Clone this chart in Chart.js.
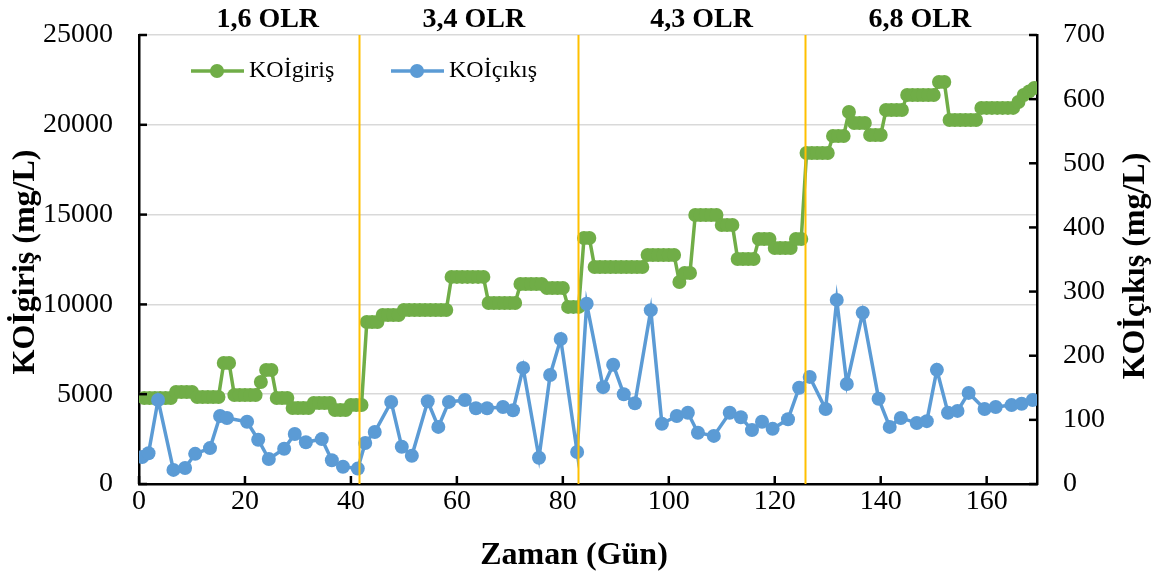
<!DOCTYPE html>
<html>
<head>
<meta charset="utf-8">
<script src="https://cdn.jsdelivr.net/npm/chart.js@4.4.0/dist/chart.umd.min.js"></script>
<style>
  body { margin: 0; background: #fff; }
  #wrap { width: 1159px; height: 581px; position: relative; }
</style>
</head>
<body>
<div id="wrap"><canvas id="chart"></canvas></div>
<script>
// KOI giris (mg/L), one value per day starting at day 1
var inValues = [
  4790, 4790, 4790, 4790, 4790, 4790, 5120, 5120, 5120, 5120,
  4840, 4840, 4840, 4840, 4840, 6740, 6740, 4950, 4950, 4950,
  4950, 4950, 5680, 6350, 6350, 4790, 4790, 4790, 4230, 4230,
  4230, 4230, 4510, 4510, 4510, 4510, 4120, 4120, 4120, 4400,
  4400, 4400, 9020, 9020, 9020, 9410, 9410, 9410, 9410, 9690,
  9690, 9690, 9690, 9690, 9690, 9690, 9690, 9690, 11530, 11530,
  11530, 11530, 11530, 11530, 11530, 10080, 10080, 10080, 10080, 10080,
  10080, 11140, 11140, 11140, 11140, 11140, 10910, 10910, 10910, 10910,
  9860, 9860, 9860, 13700, 13700, 12080, 12080, 12080, 12080, 12080,
  12080, 12080, 12080, 12080, 12080, 12750, 12750, 12750, 12750, 12750,
  12750, 11250, 11750, 11750, 14980, 14980, 14980, 14980, 14980, 14420,
  14420, 14420, 12530, 12530, 12530, 12530, 13640, 13640, 13640, 13140,
  13140, 13140, 13140, 13640, 13640, 18430, 18430, 18430, 18430, 18430,
  19380, 19380, 19380, 20710, 20100, 20100, 20100, 19430, 19430, 19430,
  20820, 20820, 20820, 20820, 21660, 21660, 21660, 21660, 21660, 21660,
  22380, 22380, 20270, 20270, 20270, 20270, 20270, 20270, 20940, 20940,
  20940, 20940, 20940, 20940, 20940, 21270, 21660, 21850, 22050
];

// KOI cikis (mg/L), sampled days
var outDays = [
  0.6, 1.8, 3.6, 6.5, 8.7, 10.6, 13.4, 15.3, 16.6, 20.4,
  22.5, 24.5, 27.4, 29.4, 31.5, 34.5, 36.4, 38.5, 41.3, 42.7,
  44.5, 47.6, 49.6, 51.5, 54.5, 56.5, 58.5, 61.5, 63.6, 65.7,
  68.7, 70.6, 72.5, 75.5, 77.6, 79.6, 82.7, 84.5, 87.6, 89.5,
  91.5, 93.6, 96.6, 98.7, 101.5, 103.6, 105.5, 108.5, 111.5, 113.6,
  115.7, 117.6, 119.6, 122.5, 124.6, 126.6, 129.6, 131.7, 133.6, 136.6,
  139.6, 141.7, 143.8, 146.8, 148.7, 150.6, 152.7, 154.5, 156.6, 159.6,
  161.7, 164.7, 166.6, 168.7
];
var outValues = [
  42, 48, 131, 22, 25, 47, 56, 106, 103, 97,
  69, 39, 55, 78, 65, 70, 37, 27, 24, 64,
  81, 128, 58, 44, 129, 89, 128, 131, 118, 118,
  120, 115, 181, 41, 170, 226, 50, 281, 151, 186,
  140, 126, 271, 94, 106, 111, 80, 75, 111, 104,
  84, 97, 86, 101, 150, 167, 117, 287, 156, 267,
  133, 89, 103, 95, 98, 178, 111, 114, 142, 117,
  120, 123, 125, 131
];

// loading phases
var phaseBounds = [41.5, 82.8, 125.7];
var phaseLabels = ["1,6 OLR", "3,4 OLR", "4,3 OLR", "6,8 OLR"];
var phaseLabelAt = [24.3, 63.2, 106.2, 147.4];

var seriesNames = ["KOİgiriş", "KOİçıkış"];
var green = "#70AD47";
var blue = "#5B9BD5";
var serif = "'Liberation Serif', 'Times New Roman', serif";

var inPoints = [];
for (var i = 0; i < inValues.length; i++) {
    inPoints.push({ x: i + 1, y: inValues[i] });
}
var outPoints = [];
for (var j = 0; j < outDays.length; j++) {
    outPoints.push({ x: outDays[j], y: outValues[j] });
}

function plain(v) { return String(v); }
function fitSide(w) {
    return function(s) { s.width = w; s.paddingTop = 0; s.paddingBottom = 0; };
}

var extras = {
    id: "extras",
    afterDatasetsDraw: function(chart) {
        var ctx = chart.ctx;
        var a = chart.chartArea;
        var xs = chart.scales.x, ys = chart.scales.y, y1 = chart.scales.y1;
        ctx.save();
        // phase lines
        ctx.strokeStyle = "#FFC000";
        ctx.lineWidth = 2;
        phaseBounds.forEach(function(d) {
            var px = Math.round(xs.getPixelForValue(d)) + 0.5;
            ctx.beginPath();
            ctx.moveTo(px, a.top);
            ctx.lineTo(px, a.bottom);
            ctx.stroke();
        });
        // inward tick marks
        ctx.strokeStyle = "#000";
        ctx.lineWidth = 2.5;
        xs.ticks.forEach(function(t) {
            var px = xs.getPixelForValue(t.value);
            ctx.beginPath(); ctx.moveTo(px, a.bottom); ctx.lineTo(px, a.bottom - 8); ctx.stroke();
        });
        ys.ticks.forEach(function(t) {
            var py = ys.getPixelForValue(t.value);
            ctx.beginPath(); ctx.moveTo(a.left, py); ctx.lineTo(a.left + 8, py); ctx.stroke();
        });
        y1.ticks.forEach(function(t) {
            var py = y1.getPixelForValue(t.value);
            ctx.beginPath(); ctx.moveTo(a.right, py); ctx.lineTo(a.right - 8, py); ctx.stroke();
        });
        ctx.restore();
    },
    afterDraw: function(chart) {
        var ctx = chart.ctx;
        var xs = chart.scales.x;
        ctx.save();
        ctx.fillStyle = "#000";
        ctx.textAlign = "center";
        ctx.textBaseline = "middle";
        ctx.font = "bold 28px " + serif;
        phaseLabels.forEach(function(lbl, k) {
            ctx.fillText(lbl, xs.getPixelForValue(phaseLabelAt[k]), 20);
        });
        // axis titles
        ctx.font = "bold 32px " + serif;
        ctx.fillText("Zaman (Gün)", 574, 556);
        ctx.save();
        ctx.translate(26, 262);
        ctx.rotate(-Math.PI / 2);
        ctx.fillText("KOİgiriş (mg/L)", 0, 0);
        ctx.restore();
        ctx.save();
        ctx.translate(1136, 266);
        ctx.rotate(-Math.PI / 2);
        ctx.fillText("KOİçıkış (mg/L)", 0, 0);
        ctx.restore();
        // legend
        var items = [[191, green, seriesNames[0]], [391, blue, seriesNames[1]]];
        ctx.font = "24px " + serif;
        ctx.textAlign = "left";
        items.forEach(function(it) {
            var ly = 71;
            ctx.strokeStyle = it[1];
            ctx.lineWidth = 3.5;
            ctx.beginPath(); ctx.moveTo(it[0], ly); ctx.lineTo(it[0] + 53, ly); ctx.stroke();
            ctx.fillStyle = it[1];
            ctx.beginPath(); ctx.arc(it[0] + 26, ly, 7, 0, Math.PI * 2); ctx.fill();
            ctx.fillStyle = "#000";
            ctx.fillText(it[2], it[0] + 58, ly);
        });
        ctx.restore();
    }
};

var chart = new Chart(document.getElementById("chart"), {
    type: "line",
    data: {
        datasets: [{
            label: seriesNames[1],
            data: outPoints,
            yAxisID: "y1",
            borderColor: blue,
            backgroundColor: blue,
            pointBackgroundColor: blue,
            pointBorderColor: blue,
            borderWidth: 3.5,
            pointRadius: 7,
            pointBorderWidth: 0,
            tension: 0
        }, {
            label: seriesNames[0],
            data: inPoints,
            yAxisID: "y",
            borderColor: green,
            backgroundColor: green,
            pointBackgroundColor: green,
            pointBorderColor: green,
            borderWidth: 3.5,
            pointRadius: 7,
            pointBorderWidth: 0,
            tension: 0
        }]
    },
    options: {
        responsive: true,
        maintainAspectRatio: false,
        animation: false,
        layout: { padding: { top: 35, left: 0, right: 0, bottom: 0 } },
        plugins: { legend: { display: false }, tooltip: { enabled: false } },
        scales: {
            x: {
                type: "linear",
                min: 0,
                max: 169.5,
                afterFit: function(s) { s.height = 97; s.paddingLeft = 0; s.paddingRight = 0; },
                grid: { display: false, drawTicks: false },
                border: { display: true, color: "#000", width: 2.5 },
                ticks: {
                    stepSize: 20,
                    includeBounds: false,
                    padding: 1,
                    color: "#000",
                    callback: plain,
                    font: { family: serif, size: 28 }
                }
            },
            y: {
                position: "left",
                min: 0,
                max: 25000,
                afterFit: fitSide(139),
                grid: { color: "#d9d9d9", lineWidth: 1.5, drawTicks: false },
                border: { display: true, color: "#000", width: 2.5 },
                ticks: {
                    stepSize: 5000,
                    padding: 26,
                    color: "#000",
                    callback: plain,
                    font: { family: serif, size: 28 }
                }
            },
            y1: {
                position: "right",
                min: 0,
                max: 700,
                afterFit: fitSide(122),
                grid: { display: false, drawTicks: false },
                border: { display: true, color: "#000", width: 2.5 },
                ticks: {
                    stepSize: 100,
                    padding: 26,
                    color: "#000",
                    callback: plain,
                    font: { family: serif, size: 28 }
                }
            }
        }
    },
    plugins: [extras]
});
</script>
</body>
</html>
